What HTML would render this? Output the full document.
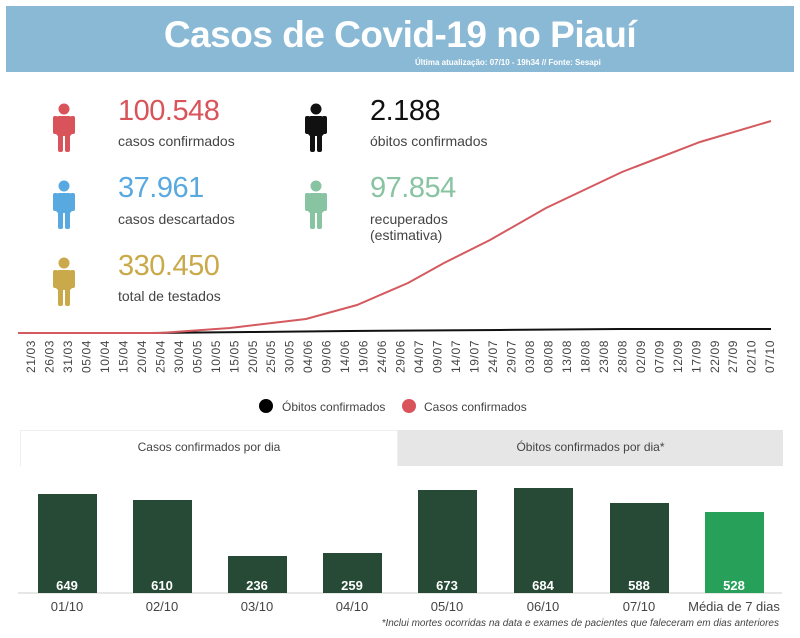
<!DOCTYPE html>
<html><head><meta charset="utf-8"><style>
body{margin:0;width:800px;height:638px;background:#fff;font-family:"Liberation Sans",sans-serif;position:relative;overflow:hidden}
.a{position:absolute;white-space:nowrap}
.num{font-size:29px;letter-spacing:-0.5px}
.lab{font-size:14px;color:#444}
</style></head><body>
<div class="a" style="left:6px;top:6px;width:788px;height:66px;background:#8ab9d6"></div>
<div class="a" style="left:0;width:800px;top:14px;text-align:center;color:#fff;font-weight:bold;font-size:37px;letter-spacing:-0.5px">Casos de Covid-19 no Piauí</div>
<div class="a" style="left:415px;top:58px;color:#fff;font-weight:bold;font-size:8px">Última atualização: 07/10 - 19h34 // Fonte: Sesapi</div>

<svg class="a" style="left:0;top:0" width="800" height="638">
<defs>
<g id="p">
<circle cx="0" cy="-18" r="5.5"/>
<rect x="-8" y="-11" width="16" height="20" rx="3"/>
<rect x="-6" y="4" width="5" height="21" rx="2"/><rect x="1" y="4" width="5" height="21" rx="2"/>
<rect x="-11" y="-11" width="5" height="18" rx="2"/><rect x="6" y="-11" width="5" height="18" rx="2"/>
</g>
</defs>
<use href="#p" x="64" y="127" fill="#d9545a"/>
<use href="#p" x="316" y="127" fill="#111"/>
<use href="#p" x="64" y="204" fill="#58a9e0"/>
<use href="#p" x="316" y="204" fill="#88c3a2"/>
<use href="#p" x="64" y="281" fill="#c9a94a"/>
<polyline fill="none" stroke="#111" stroke-width="2" points="18,333 150,333 250,332 350,331 500,330 620,329 771,329"/>
<polyline fill="none" stroke="#d45a5f" stroke-width="2" points="18,333 160,333 230,328 306,319 357,305 408,283 444,263 490,240 546,208 622,172 700,142 771,121"/>
<g id="ticks" font-size="12" fill="#444" letter-spacing="0.6" font-family="Liberation Sans" text-anchor="end"></g>
<circle cx="266" cy="406" r="7" fill="#000"/>
<circle cx="409" cy="406" r="7" fill="#d9545a"/>
<text x="282" y="411" font-size="12" fill="#444">Óbitos confirmados</text>
<text x="424" y="411" font-size="12" fill="#444">Casos confirmados</text>
<line x1="18" y1="593" x2="782" y2="593" stroke="#ccc"/>
<g fill="#264a36">
<rect x="38" y="494" width="59" height="99"/><rect x="133" y="500" width="59" height="93"/>
<rect x="228" y="556" width="59" height="37"/><rect x="323" y="553" width="59" height="40"/>
<rect x="418" y="490" width="59" height="103"/><rect x="514" y="488" width="59" height="105"/>
<rect x="610" y="503" width="59" height="90"/></g>
<rect x="705" y="512" width="59" height="81" fill="#27a05a"/>
<g fill="#fff" font-weight="bold" font-size="13" text-anchor="middle">
<text x="67" y="590">649</text><text x="162" y="590">610</text><text x="257" y="590">236</text><text x="352" y="590">259</text><text x="447" y="590">673</text><text x="543" y="590">684</text><text x="639" y="590">588</text><text x="734" y="590">528</text></g>
<g fill="#444" font-size="13" text-anchor="middle">
<text x="67" y="611">01/10</text><text x="162" y="611">02/10</text><text x="257" y="611">03/10</text><text x="352" y="611">04/10</text><text x="447" y="611">05/10</text><text x="543" y="611">06/10</text><text x="639" y="611">07/10</text><text x="734" y="611">Média de 7 dias</text></g>
<text x="779" y="626" font-size="10" font-style="italic" fill="#444" text-anchor="end">*Inclui mortes ocorridas na data e exames de pacientes que faleceram em dias anteriores</text>
</svg>

<div class="a num" style="left:118px;top:95px;color:#d9545a">100.548</div>
<div class="a lab" style="left:118px;top:133px">casos confirmados</div>
<div class="a num" style="left:370px;top:95px;color:#111">2.188</div>
<div class="a lab" style="left:370px;top:133px">óbitos confirmados</div>
<div class="a num" style="left:118px;top:172px;color:#58a9e0">37.961</div>
<div class="a lab" style="left:118px;top:211px">casos descartados</div>
<div class="a num" style="left:370px;top:172px;color:#88c3a2">97.854</div>
<div class="a lab" style="left:370px;top:211px;line-height:16px">recuperados<br>(estimativa)</div>
<div class="a num" style="left:118px;top:250px;color:#c9a94a">330.450</div>
<div class="a lab" style="left:118px;top:288px">total de testados</div>

<div class="a" style="left:398px;top:430px;width:385px;height:36px;background:#e6e6e6"></div>
<div class="a" style="left:20px;top:430px;width:378px;height:36px;background:#fff;border:1px solid #eee;border-bottom:none;box-sizing:border-box"></div>
<div class="a" style="left:20px;width:378px;top:440px;text-align:center;font-size:12px;color:#444">Casos confirmados por dia</div>
<div class="a" style="left:398px;width:385px;top:440px;text-align:center;font-size:12px;color:#444">Óbitos confirmados por dia*</div>

<script>
var d="21/03,26/03,31/03,05/04,10/04,15/04,20/04,25/04,30/04,05/05,10/05,15/05,20/05,25/05,30/05,04/06,09/06,14/06,19/06,24/06,29/06,04/07,09/07,14/07,19/07,24/07,29/07,03/08,08/08,13/08,18/08,23/08,28/08,02/09,07/09,12/09,17/09,22/09,27/09,02/10,07/10".split(",");
var g=document.getElementById("ticks"),s="";
d.forEach(function(t,i){var x=31+i*18.48+4;s+='<text transform="translate('+x.toFixed(1)+',340) rotate(-90)">'+t+'</text>';});
g.innerHTML=s;
</script>
</body></html>
